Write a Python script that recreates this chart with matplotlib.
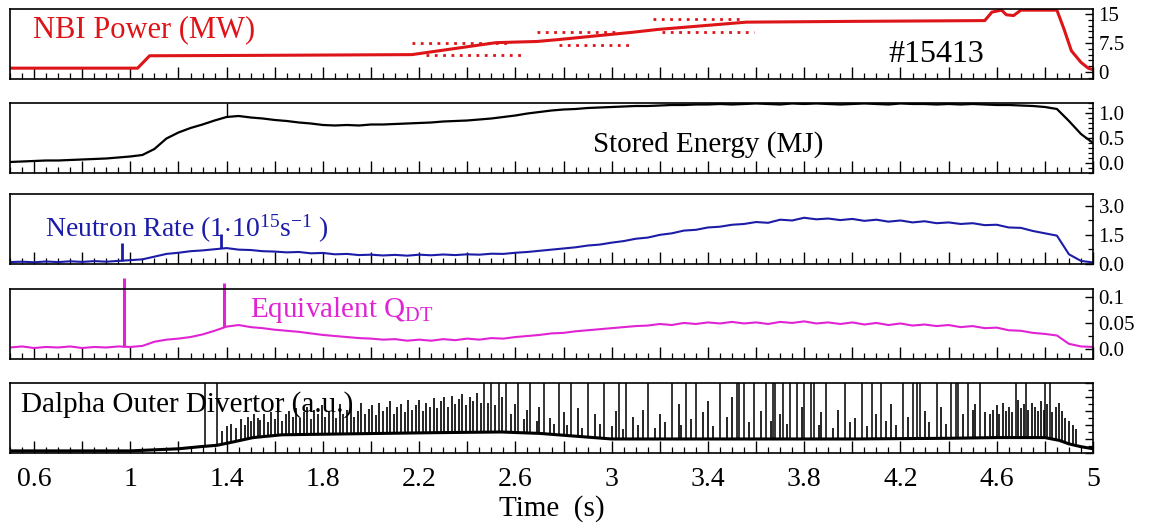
import numpy as np
import matplotlib

matplotlib.use("Agg")
import matplotlib.pyplot as plt
from matplotlib.ticker import MultipleLocator, FixedLocator

plt.rcParams['font.family'] = ['Liberation Serif', 'DejaVu Serif']
plt.rcParams['mathtext.fontset'] = 'custom'
plt.rcParams['mathtext.rm'] = 'Liberation Serif'
plt.rcParams['mathtext.it'] = 'Liberation Serif:italic'

RED = '#dd1418'
BLUE = '#1c1ca8'
MAGENTA = '#e024d4'

# ---- NBI power (MW) ----
nbi_t = [0.50, 1.03, 1.08, 1.50, 2.17, 2.52, 2.69, 2.78, 3.09, 3.19, 3.56, 4.00,
         4.55, 4.58, 4.62, 4.64, 4.67, 4.70, 4.85, 4.88, 4.91, 4.95, 4.98, 5.00]
nbi_mw = [1.0, 1.0, 4.2, 4.3, 4.5, 7.6, 7.9, 8.4, 10.3, 11.0, 12.9, 13.1,
          13.3, 15.5, 16.0, 14.8, 14.6, 16.0, 16.0, 11.0, 5.5, 2.5, 1.0, 0.6]
# dotted individual-source traces (start, end, level)
nbi_dot_start = [2.17, 2.23, 2.69, 2.78, 3.17, 3.21]
nbi_dot_end = [2.58, 2.64, 3.03, 3.08, 3.55, 3.59]
nbi_dot_level = [7.6, 4.5, 10.3, 7.1, 13.7, 10.3]

# ---- regular 0.05 s grid for the slow signals ----
grid_t = np.linspace(0.5, 5.0, 91)

wdia = [0.02, 0.03, 0.04, 0.05, 0.05, 0.06, 0.07, 0.08, 0.09, 0.11,
        0.13, 0.16, 0.28, 0.49, 0.61, 0.70, 0.77, 0.85, 0.92, 0.94,
        0.91, 0.89, 0.86, 0.84, 0.81, 0.79, 0.76, 0.75, 0.76, 0.75,
        0.77, 0.77, 0.78, 0.79, 0.80, 0.81, 0.83, 0.84, 0.85, 0.87,
        0.89, 0.92, 0.95, 0.99, 1.02, 1.05, 1.07, 1.08, 1.10, 1.11,
        1.12, 1.13, 1.14, 1.14, 1.15, 1.16, 1.16, 1.17, 1.17, 1.18,
        1.17, 1.18, 1.19, 1.18, 1.17, 1.19, 1.18, 1.19, 1.18, 1.17,
        1.18, 1.19, 1.18, 1.17, 1.19, 1.18, 1.18, 1.17, 1.18, 1.17,
        1.18, 1.17, 1.16, 1.16, 1.15, 1.14, 1.12, 1.08, 0.84, 0.58,
        0.40]
wdia_spike_t = [1.40]
wdia_spike_lo = [0.93]
wdia_spike_hi = [1.20]

neut = [0.10, 0.12, 0.09, 0.13, 0.10, 0.14, 0.11, 0.15, 0.12, 0.16,
        0.20, 0.24, 0.38, 0.52, 0.58, 0.66, 0.70, 0.76, 0.82, 0.74,
        0.72, 0.66, 0.64, 0.60, 0.62, 0.55, 0.57, 0.50, 0.52, 0.46,
        0.48, 0.44, 0.47, 0.43, 0.48, 0.45, 0.49, 0.46, 0.50, 0.48,
        0.53, 0.52, 0.58, 0.62, 0.68, 0.74, 0.80, 0.86, 0.95, 1.00,
        1.10, 1.18, 1.30, 1.36, 1.50, 1.58, 1.72, 1.76, 1.88, 1.92,
        2.02, 2.06, 2.16, 2.12, 2.28, 2.24, 2.38, 2.30, 2.34, 2.26,
        2.32, 2.22, 2.28, 2.18, 2.24, 2.14, 2.20, 2.10, 2.14, 2.06,
        2.10, 2.00, 2.02, 1.88, 1.86, 1.70, 1.58, 1.46, 0.50, 0.16,
        0.08]
neut_spike_t = [0.965, 1.375]
neut_spike_lo = [0.15, 0.80]
neut_spike_hi = [1.10, 1.55]

qdt = [0.003, 0.005, 0.002, 0.004, 0.003, 0.005, 0.002, 0.004, 0.003, 0.005,
       0.004, 0.006, 0.014, 0.018, 0.020, 0.023, 0.028, 0.035, 0.043, 0.046,
       0.042, 0.040, 0.037, 0.035, 0.033, 0.030, 0.027, 0.025, 0.023, 0.021,
       0.020, 0.018, 0.019, 0.016, 0.018, 0.016, 0.019, 0.017, 0.020, 0.018,
       0.021, 0.020, 0.023, 0.025, 0.027, 0.030, 0.031, 0.034, 0.036, 0.038,
       0.040, 0.042, 0.044, 0.045, 0.048, 0.046, 0.050, 0.048, 0.051, 0.049,
       0.052, 0.049, 0.051, 0.048, 0.052, 0.050, 0.053, 0.049, 0.051, 0.048,
       0.051, 0.047, 0.050, 0.046, 0.049, 0.045, 0.047, 0.044, 0.046, 0.042,
       0.044, 0.040, 0.041, 0.036, 0.035, 0.031, 0.029, 0.026, 0.010, 0.005,
       0.004]
qdt_spike_t = [0.975, 1.39]
qdt_spike_lo = [0.004, 0.042]
qdt_spike_hi = [0.137, 0.127]

# ---- D-alpha outer divertor (a.u.) ----
dal_base_t = [0.50, 1.00, 1.20, 1.29, 1.36, 1.43, 1.51, 1.63, 1.84, 2.26, 2.54,
              2.70, 2.85, 3.00, 3.50, 4.00, 4.40, 4.60, 4.80, 4.86, 4.90, 4.95, 5.00]
dal_base = [0.03, 0.03, 0.06, 0.09, 0.11, 0.16, 0.22, 0.26, 0.27, 0.29, 0.30,
            0.28, 0.24, 0.20, 0.20, 0.20, 0.21, 0.22, 0.22, 0.18, 0.13, 0.09, 0.06]
dal_tall_t = [1.31, 1.36, 2.47, 2.50, 2.53, 2.56, 2.61, 2.66, 2.72, 2.78, 2.83,
              2.90, 2.97, 3.03, 3.06, 3.15, 3.25, 3.31, 3.35, 3.45, 3.52, 3.53,
              3.55, 3.59, 3.64, 3.67, 3.68, 3.71, 3.74, 3.77, 3.80, 3.83, 3.84,
              3.89, 3.97, 4.04, 4.08, 4.12, 4.21, 4.25, 4.27, 4.28, 4.35, 4.41,
              4.43, 4.44, 4.48, 4.53, 4.68, 4.72, 4.80, 4.82]
dal_mid_t = [1.38, 1.40, 1.42, 1.44, 1.46, 1.475, 1.49, 1.50, 1.515, 1.53,
             1.54, 1.555, 1.57, 1.585, 1.60, 1.615, 1.63, 1.645, 1.66, 1.675,
             1.69, 1.705, 1.72, 1.735, 1.75, 1.765, 1.78, 1.795, 1.81, 1.825,
             1.84, 1.855, 1.87, 1.885, 1.90, 1.915, 1.93, 1.945, 1.96, 1.975,
             1.99, 2.005, 2.02, 2.035, 2.05, 2.065, 2.08, 2.095, 2.11, 2.125,
             2.14, 2.155, 2.17, 2.185, 2.20, 2.215, 2.23, 2.245, 2.26, 2.275,
             2.29, 2.305, 2.32, 2.335, 2.35, 2.365, 2.38, 2.395, 2.41, 2.425,
             2.44, 2.455,
             2.485, 2.515, 2.545, 2.58, 2.60, 2.635, 2.65, 2.69, 2.70, 2.745,
             2.76, 2.80, 2.815, 2.86, 2.875, 2.93, 2.95, 3.00, 3.02, 3.045,
             3.09, 3.11, 3.13, 3.18, 3.20, 3.22, 3.28, 3.29, 3.33, 3.38,
             3.40, 3.42, 3.48, 3.50, 3.57, 3.62, 3.66, 3.70, 3.73, 3.79,
             3.86, 3.87, 3.92, 3.94, 3.99, 4.01, 4.06, 4.10, 4.14, 4.16,
             4.18, 4.23, 4.30, 4.32, 4.37, 4.39, 4.46, 4.50, 4.51, 4.55,
             4.57, 4.585, 4.60, 4.61, 4.625, 4.64, 4.65, 4.665, 4.69, 4.70,
             4.715, 4.73, 4.745, 4.76, 4.77, 4.785, 4.795, 4.81, 4.83, 4.845,
             4.86, 4.87, 4.885, 4.90, 4.915, 4.93]
dal_mid_h = [0.32, 0.38, 0.42, 0.36, 0.48, 0.40, 0.52, 0.45, 0.55, 0.50,
             0.47, 0.56, 0.44, 0.58, 0.49, 0.62, 0.46, 0.55, 0.60, 0.52,
             0.64, 0.50, 0.58, 0.66, 0.48, 0.62, 0.55, 0.68, 0.52, 0.60,
             0.65, 0.50, 0.70, 0.56, 0.62, 0.67, 0.52, 0.60, 0.71, 0.55,
             0.63, 0.69, 0.54, 0.72, 0.60, 0.66, 0.74, 0.56, 0.65, 0.70,
             0.58, 0.75, 0.62, 0.68, 0.76, 0.60, 0.72, 0.66, 0.78, 0.64,
             0.74, 0.80, 0.66, 0.82, 0.70, 0.77, 0.84, 0.68, 0.80, 0.74,
             0.85, 0.72,
             0.72, 0.68, 0.80, 0.55, 0.70, 0.48, 0.62, 0.45, 0.66, 0.50,
             0.42, 0.58, 0.40, 0.64, 0.36, 0.55, 0.42, 0.38, 0.60, 0.34,
             0.52, 0.40, 0.62, 0.36, 0.56, 0.44, 0.70, 0.40, 0.48, 0.58,
             0.74, 0.38, 0.52, 0.80, 0.44, 0.60, 0.46, 0.55, 0.42, 0.66,
             0.40, 0.58, 0.36, 0.62, 0.44, 0.50, 0.38, 0.56, 0.46, 0.70,
             0.40, 0.52, 0.60, 0.44, 0.66, 0.42, 0.56, 0.62, 0.70, 0.58,
             0.56, 0.62, 0.68, 0.55, 0.72, 0.60, 0.66, 0.58, 0.75, 0.64,
             0.70, 0.62, 0.72, 0.66, 0.60, 0.74, 0.62, 0.70, 0.58, 0.66,
             0.72, 0.60, 0.50, 0.46, 0.40, 0.34]

x_tick_labels = [0.6, 1.0, 1.4, 1.8, 2.2, 2.6, 3.0, 3.4, 3.8, 4.2, 4.6, 5.0]

fig = plt.figure(figsize=(11.52, 5.29), dpi=100)

left, width, height = 0.0087, 0.9401, 0.1323
bottoms = [0.8507, 0.6730, 0.5009, 0.3214, 0.1437]
axes = [fig.add_axes([left, b, width, height]) for b in bottoms]

for i, ax in enumerate(axes):
    ax.set_xlim(0.5, 5.0)
    for s in ax.spines.values():
        s.set_linewidth(1.2)
    ax.xaxis.set_major_locator(MultipleLocator(0.2))
    ax.xaxis.set_minor_locator(MultipleLocator(0.05))
    ax.tick_params(axis='x', which='major', direction='in', length=9, width=1.0,
                   top=False, bottom=True, labelbottom=False)
    ax.tick_params(axis='x', which='minor', direction='in', length=4.5, width=0.9,
                   top=False, bottom=True)
    ax.yaxis.tick_right()
    ax.tick_params(axis='y', which='major', direction='in', length=6, width=1.0,
                   left=False, right=True, labelsize=15, pad=4)
    ax.tick_params(axis='y', which='minor', direction='in', length=3.5, width=0.9,
                   left=False, right=True)

# panel 1: NBI power
ax = axes[0]
ax.plot(nbi_t, nbi_mw, color=RED, lw=2.2)
for a, b, lev in zip(nbi_dot_start, nbi_dot_end, nbi_dot_level):
    ax.plot([a, b], [lev, lev], color=RED, lw=2.0, ls=(0, (1, 2)))
ax.set_ylim(-1.8, 16.3)
ax.yaxis.set_major_locator(FixedLocator([0, 7.5, 15]))
ax.yaxis.set_minor_locator(MultipleLocator(1.5))
ax.set_yticklabels(['0', '7.5', '15'])
ax.text(0.021, 0.70, 'NBI Power (MW)', transform=ax.transAxes, color=RED,
        fontsize=22, va='center', ha='left')
ax.text(0.811, 0.35, '#15413', transform=ax.transAxes, color='black',
        fontsize=23, va='center', ha='left')

# panel 2: stored energy
ax = axes[1]
ax.plot(grid_t, wdia, color='black', lw=1.6)
ax.vlines(wdia_spike_t, wdia_spike_lo, wdia_spike_hi, color='black', lw=1.0)
ax.set_ylim(-0.2, 1.2)
ax.yaxis.set_major_locator(FixedLocator([0.0, 0.5, 1.0]))
ax.yaxis.set_minor_locator(MultipleLocator(0.1))
ax.set_yticklabels(['0.0', '0.5', '1.0'])
ax.text(0.538, 0.41, 'Stored Energy (MJ)', transform=ax.transAxes, color='black',
        fontsize=21, va='center', ha='left')

# panel 3: neutron rate
ax = axes[2]
ax.plot(grid_t, neut, color=BLUE, lw=1.5)
ax.vlines(neut_spike_t, neut_spike_lo, neut_spike_hi, color=BLUE, lw=2.0)
ax.set_ylim(0, 3.6)
ax.yaxis.set_major_locator(FixedLocator([0.0, 1.5, 3.0]))
ax.yaxis.set_minor_locator(MultipleLocator(0.75))
ax.set_yticklabels(['0.0', '1.5', '3.0'])
ax.text(0.032, 0.50, r'Neutron Rate (1$\cdot$10$^{\mathrm{15}}$s$^{\mathrm{-1}}$ )',
        transform=ax.transAxes, color=BLUE, fontsize=20, va='center', ha='left')

# panel 4: equivalent Q_DT
ax = axes[3]
ax.plot(grid_t, qdt, color=MAGENTA, lw=1.5)
ax.vlines(qdt_spike_t, qdt_spike_lo, qdt_spike_hi, color=MAGENTA, lw=2.2,
          clip_on=False)
ax.set_ylim(-0.019, 0.115)
ax.yaxis.set_major_locator(FixedLocator([0.0, 0.05, 0.1]))
ax.yaxis.set_minor_locator(MultipleLocator(0.025))
ax.set_yticklabels(['0.0', '0.05', '0.1'])
ax.text(0.222, 0.70, r'Equivalent Q$_{\mathrm{DT}}$', transform=ax.transAxes,
        color=MAGENTA, fontsize=21, va='center', ha='left')

# panel 5: D-alpha
ax = axes[4]
ax.plot(dal_base_t, dal_base, color='black', lw=2.2)
base_tall = np.interp(dal_tall_t, dal_base_t, dal_base)
base_mid = np.interp(dal_mid_t, dal_base_t, dal_base)
ax.vlines(dal_tall_t, base_tall, 1.0, color='black', lw=1.1)
ax.vlines(dal_mid_t, base_mid, dal_mid_h, color='black', lw=1.2)
ax.set_ylim(0, 1.0)
ax.yaxis.set_major_locator(MultipleLocator(0.2))
ax.yaxis.set_minor_locator(MultipleLocator(0.1))
ax.tick_params(axis='y', labelright=False)
ax.text(0.01, 0.69, 'Dalpha Outer Divertor (a.u.)', transform=ax.transAxes,
        color='black', fontsize=21, va='center', ha='left')
ax.tick_params(axis='x', which='major', labelbottom=True, labelsize=20, pad=10)
labels = []
for v in ax.get_xticks():
    r = round(v, 2)
    match = [lab for lab in x_tick_labels if abs(lab - r) < 1e-6]
    if match:
        labels.append(f"{match[0]:g}")
    else:
        labels.append('')
ax.set_xticks(ax.get_xticks(), labels=labels)
ax.set_xlim(0.5, 5.0)
ax.set_xlabel('Time  (s)', fontsize=21, labelpad=2)

fig.savefig('out.png', dpi=100)
